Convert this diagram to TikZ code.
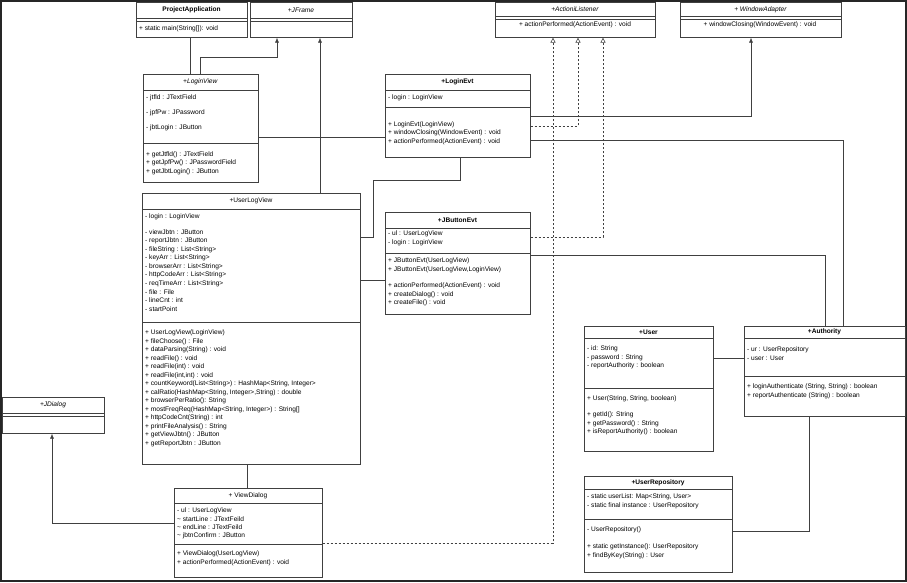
\documentclass[tikz,border=0pt]{standalone}
\usepackage{fontspec}
\setmainfont{Liberation Sans}
\usetikzlibrary{arrows.meta}
\begin{document}
\begin{tikzpicture}[x=1pt,y=-1pt,
  box/.style={draw=black!75,line width=0.6pt,fill=white,anchor=north west,inner sep=0pt},
  txt/.style={anchor=west,inner sep=0pt,font=\fontsize{6.6}{7.5}\selectfont},
  ttl/.style={anchor=center,inner sep=0pt,font=\fontsize{6.6}{7.5}\selectfont},
  con/.style={draw=black!75,line width=0.6pt},
  inh/.style={con,-{Latex[length=5pt,width=4pt]}},
  real/.style={con,dashed,dash pattern=on 2.5pt off 1.5pt,-{Triangle[open,length=5pt,width=5pt]}}]
\newcommand\umlbox[7]{% name x1 y1 x2 y2 sep1 sep2
  \node[box,minimum width={#4-#2},minimum height={#5-#3}] (#1) at (#2,#3) {};
  \draw[con] (#2,#6) -- (#4,#6);
  \draw[con] (#2,#7) -- (#4,#7);}
\newcommand\umltxt[3]{\node[txt] at (#1,#2) {#3};}
\newcommand\umlttl[4]{\node[ttl] at ({(#1+#2)/2},#3) {#4};}
\fill[white] (0,0) rectangle (907,582);
\useasboundingbox (0,0) rectangle (907,582);
\draw[line width=2.5pt,black!85] (1,1) rectangle (906,581);

% ProjectApplication
\umlbox{PA}{136}{2}{247}{37}{18}{21}
\umlttl{136}{247}{10}{\textbf{ProjectApplication}}
\umltxt{139}{29}{+ static main(String[]): void}
% JFrame
\umlbox{JF}{250}{2}{352}{37}{18}{21}
\umlttl{250}{352}{10}{\textit{+JFrame}}
% ActionListener
\umlbox{AL}{495}{2}{655}{37}{16}{19}
\umlttl{495}{655}{9.5}{\textit{+ActioniListener}}
\umltxt{0}{0}{}
\node[ttl] at (575,25) {+ actionPerformed(ActionEvent) : void};
% WindowAdapter
\umlbox{WA}{680}{2}{841}{37}{16}{19}
\umlttl{680}{841}{9.5}{\textit{+ WindowAdapter}}
\node[ttl] at (760,25) {+ windowClosing(WindowEvent) : void};
% LoginView
\umlbox{LV}{143}{74}{258}{182}{90}{143}
\umlttl{143}{258}{82}{\textit{+LoginView}}
\umltxt{146}{98}{- jtfld : JTextField}
\umltxt{146}{113}{- jpfPw : JPassword}
\umltxt{146}{128}{- jbtLogin : JButton}
\umltxt{146}{155}{+ getJtfld() : JTextField}
\umltxt{146}{163}{+ getJpfPw() : JPasswordField}
\umltxt{146}{172}{+ getJbtLogin() : JButton}
% LoginEvt
\umlbox{LE}{385}{74}{530}{157}{90}{107}
\umlttl{385}{530}{82}{\textbf{+LoginEvt}}
\umltxt{388}{98}{- login : LoginView}
\umltxt{388}{125}{+ LoginEvt(LoginView)}
\umltxt{388}{133}{+ windowClosing(WindowEvent) : void}
\umltxt{388}{142}{+ actionPerformed(ActionEvent) : void}
% UserLogView
\umlbox{ULV}{142}{193}{360}{464}{209}{322}
\umlttl{142}{360}{201}{+UserLogView}
\umltxt{145}{217}{- login : LoginView}
\umltxt{145}{232}{- viewJbtn : JButton}
\umltxt{145}{241}{- reportJbtn : JButton}
\umltxt{145}{249.5}{- fileString : List<String>}
\umltxt{145}{258}{- keyArr : List<String>}
\umltxt{145}{266.5}{- browserArr : List<String>}
\umltxt{145}{275}{- httpCodeArr : List<String>}
\umltxt{145}{283.5}{- reqTimeArr : List<String>}
\umltxt{145}{292}{- file : File}
\umltxt{145}{300.5}{- lineCnt : int}
\umltxt{145}{309}{- startPoint}
\umltxt{145}{333}{+ UserLogView(LoginView)}
\umltxt{145}{341.5}{+ fileChoose() : File}
\umltxt{145}{350}{+ dataParsing(String) : void}
\umltxt{145}{358.5}{+ readFile() : void}
\umltxt{145}{367}{+ readFile(int) : void}
\umltxt{145}{375.5}{+ readFile(int,int) : void}
\umltxt{145}{384}{+ countKeyword(List<String>) : HashMap<String, Integer>}
\umltxt{145}{392.5}{+ calRatio(HashMap<String, Integer>,String) : double}
\umltxt{145}{401}{+ browserPerRatio(): String}
\umltxt{145}{409.5}{+ mostFreqReq(HashMap<String, Integer>) : String[]}
\umltxt{145}{418}{+ httpCodeCnt(String) : int}
\umltxt{145}{426.5}{+ printFileAnalysis() : String}
\umltxt{145}{435}{+ getViewJbtn() : JButton}
\umltxt{145}{443.5}{+ getReportJbtn : JButton}
% JButtonEvt
\umlbox{JBE}{385}{212}{530}{314}{228}{253}
\umlttl{385}{530}{220}{\textbf{+JButtonEvt}}
\umltxt{388}{234}{- ul : UserLogView}
\umltxt{388}{243}{- login : LoginView}
\umltxt{388}{261}{+ JButtonEvt(UserLogView)}
\umltxt{388}{269.5}{+ JButtonEvt(UserLogView,LoginView)}
\umltxt{388}{286}{+ actionPerformed(ActionEvent) : void}
\umltxt{388}{294.5}{+ createDialog() : void}
\umltxt{388}{303}{+ createFile() : void}
% User
\umlbox{US}{584}{326}{713}{451}{338}{388}
\umlttl{584}{713}{332}{\textbf{+User}}
\umltxt{587}{349}{- id: String}
\umltxt{587}{357.5}{- password : String}
\umltxt{587}{366}{- reportAuthority : boolean}
\umltxt{587}{399}{+ User(String, String, boolean)}
\umltxt{587}{415}{+ getId(): String}
\umltxt{587}{423.5}{+ getPassword() : String}
\umltxt{587}{432}{+ isReportAuthority() : boolean}
% Authority
\umlbox{AU}{744}{326}{905}{416}{338}{376}
\umlttl{744}{905}{332}{\textbf{+Authority}}
\umltxt{747}{350}{- ur : UserRepository}
\umltxt{747}{358.5}{- user : User}
\umltxt{747}{387}{+ loginAuthenticate (String, String) : boolean}
\umltxt{747}{395.5}{+ reportAuthenticate (String) : boolean}
% UserRepository
\umlbox{UR}{584}{476}{732}{572}{489}{519}
\umlttl{584}{732}{482.5}{\textbf{+UserRepository}}
\umltxt{587}{497}{- static userList:  Map<String, User>}
\umltxt{587}{505.5}{- static final instance : UserRepository}
\umltxt{587}{530}{- UserRepository()}
\umltxt{587}{547}{+ static getInstance(): UserRepository}
\umltxt{587}{555.5}{+ findByKey(String) : User}
% JDialog
\umlbox{JD}{2}{397}{104}{433}{413}{416}
\umlttl{2}{104}{405}{\textit{+JDialog}}
% ViewDialog
\umlbox{VD}{174}{488}{322}{577}{503}{544}
\umlttl{174}{322}{495.5}{+ ViewDialog}
\umltxt{177}{511}{- ul : UserLogView}
\umltxt{177}{519}{\textasciitilde{} startLine : JTextFeild}
\umltxt{177}{527.5}{\textasciitilde{} endLine : JTextFeild}
\umltxt{177}{536}{\textasciitilde{} jbtnConfirm : JButton}
\umltxt{177}{554}{+ ViewDialog(UserLogView)}
\umltxt{177}{562.5}{+ actionPerformed(ActionEvent) : void}

% connectors
\draw[con] (PA.south -| 190,0) -- (LV.north -| 190,0);
\draw[inh] (LV.north -| 200,0) -- (200,57) -- (277,57) -- (JF.south -| 277,0);
\draw[inh] (ULV.north -| 320,0) -- (JF.south -| 320,0);
\draw[con] (LV.east |- 0,137) -- (LE.west |- 0,137);
\draw[con] (LE.south -| 460,0) -- (460,180) -- (373,180) -- (373,237) -- (ULV.east |- 0,237);
\draw[con] (ULV.east |- 0,280) -- (JBE.west |- 0,280);
\draw[inh] (LE.east |- 0,116) -- (751,116) -- (WA.south -| 751,0);
\draw[real] (LE.east |- 0,126) -- (578,126) -- (AL.south -| 578,0);
\draw[con] (LE.east |- 0,140) -- (843,140) -- (AU.north -| 843,0);
\draw[real] (JBE.east |- 0,237) -- (603,237) -- (AL.south -| 603,0);
\draw[con] (JBE.east |- 0,255) -- (825,255) -- (AU.north -| 825,0);
\draw[real] (VD.east |- 0,543) -- (553,543) -- (AL.south -| 553,0);
\draw[con] (ULV.south -| 247,0) -- (VD.north -| 247,0);
\draw[inh] (VD.west |- 0,523) -- (52,523) -- (JD.south -| 52,0);
\draw[con] (US.east |- 0,358) -- (AU.west |- 0,358);
\draw[con] (AU.south -| 809,0) -- (809,531) -- (UR.east |- 0,531);
\end{tikzpicture}
\end{document}
